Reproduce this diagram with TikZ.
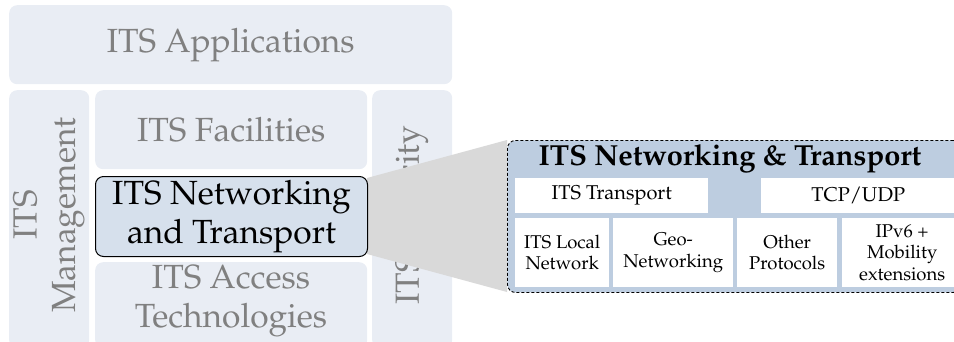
\documentclass[tikz,border=0pt]{standalone}
\usepackage[T1]{fontenc}
\usepackage{mathpazo}
\definecolor{bgbox}{HTML}{E9EDF4}
\definecolor{txtgray}{HTML}{808080}
\definecolor{netfill}{HTML}{D6E0EC}
\definecolor{zoomfill}{HTML}{BDCDE0}
\definecolor{trapgray}{HTML}{D9D9D9}
\begin{document}
\begin{tikzpicture}[x=1pt,y=-1pt,
 layer/.style={fill=bgbox, draw=none, rounded corners=8pt, inner sep=0pt, anchor=north west},
 big/.style={font=\fontsize{33.5}{38.5}\selectfont, text=txtgray, align=center},
 wbox/.style={fill=white, inner sep=0pt, anchor=north west, align=center, font=\fontsize{18.5}{21.5}\selectfont},
 wtop/.style={wbox, font=\fontsize{20}{22}\selectfont}]
\useasboundingbox (0,0) rectangle (954,341);
\clip (0,0) rectangle (954,341);
% background layers
\node[layer, minimum width=443pt, minimum height=79pt, big] (app) at (9,5) {ITS Applications};
\node[layer, minimum width=80pt, minimum height=258pt] (mgmt) at (9,90) {};
\node[big, rotate=90] (mgmtt) at (49,215) {ITS\\Management};
\node[layer, minimum width=272pt, minimum height=79pt, big] (fac) at (95,90) {ITS Facilities};
\node[layer, minimum width=272pt, minimum height=86pt] (acc) at (95,262) {};
\node[big] (acct) at (231,301) {ITS Access\\Technologies};
\node[layer, minimum width=80pt, minimum height=258pt] (sec) at (372,90) {};
\node[big, rotate=90] (sect) at (412,215) {ITS Security};
% zoom box
\coordinate (netne) at (367,178);
\coordinate (netse) at (367,254);
\coordinate (zoomnw) at (507,140);
\coordinate (zoomsw) at (507,292);
\fill[trapgray] (netne) -- (zoomnw) -- (zoomsw) -- (netse) -- cycle;
\node[draw=black, dash pattern=on 3pt off 2pt, line width=0.9pt, fill=zoomfill, rounded corners=8pt, minimum width=454pt, minimum height=152pt, anchor=north west, inner sep=0pt] (zoom) at (zoomnw) {};
\node[font=\fontsize{29}{32}\selectfont\bfseries] (title) at (730,159) {ITS Networking \& Transport};
\node[wtop, minimum width=193pt, minimum height=35pt] (itst) at (515,178) {ITS Transport};
\node[wtop, minimum width=194pt, minimum height=35pt] (tcp) at (761,178) {TCP/UDP};
\node[wbox, minimum width=94pt, minimum height=69pt] (loc) at (515,218) {ITS Local\\Network};
\node[wbox, minimum width=120pt, minimum height=69pt] (geo) at (613,218) {Geo-\\Networking};
\node[wbox, minimum width=100pt, minimum height=69pt] (oth) at (737,218) {Other\\Protocols};
\node[wbox, minimum width=120pt, minimum height=69pt] (ipv) at (842,218) {IPv6 +\\Mobility\\extensions};
% highlighted layer
\node[draw=black, line width=1pt, fill=netfill, rounded corners=8pt, minimum width=272pt, minimum height=80pt, anchor=north west, inner sep=0pt, font=\fontsize{33.5}{38.5}\selectfont, align=center] (net) at (95,176) {ITS Networking\\and Transport};
\end{tikzpicture}
\end{document}
